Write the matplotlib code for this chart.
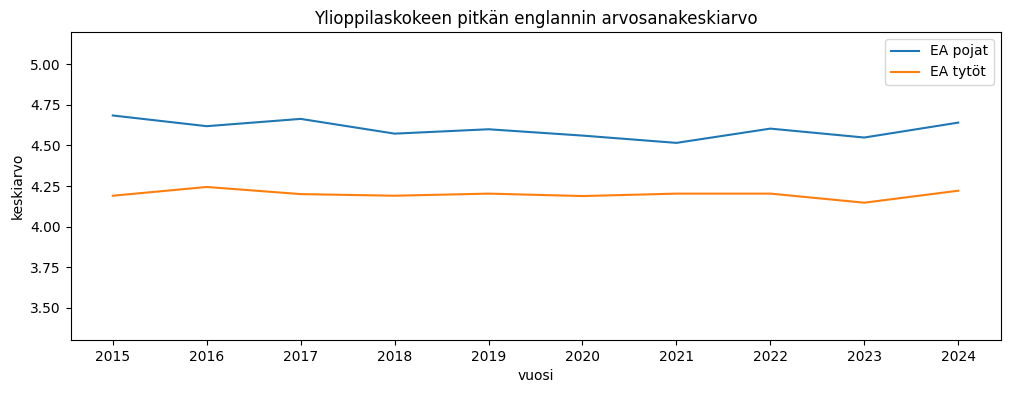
import matplotlib
matplotlib.use("Agg")
import matplotlib.pyplot as plt

years = [2015, 2016, 2017, 2018, 2019, 2020, 2021, 2022, 2023, 2024]
pojat = [4.685, 4.619, 4.664, 4.573, 4.600, 4.561, 4.516, 4.604, 4.549, 4.641]
tytot = [4.190, 4.244, 4.200, 4.190, 4.203, 4.188, 4.203, 4.203, 4.147, 4.221]

fig = plt.figure(figsize=(10.09, 3.93), dpi=100)
ax = fig.add_axes([70.5 / 1009, 1 - 340 / 393, 930 / 1009, 308 / 393])

ax.plot(years, pojat, label="EA pojat")
ax.plot(years, tytot, label="EA tytöt")
ax.set_ylim(3.3, 5.2)
ax.set_xticks(years)
ax.set_xlabel("vuosi")
ax.set_ylabel("keskiarvo")
ax.set_title("Ylioppilaskokeen pitkän englannin arvosanakeskiarvo")
ax.legend(loc="upper right")

fig.savefig("out.png", dpi=100)
